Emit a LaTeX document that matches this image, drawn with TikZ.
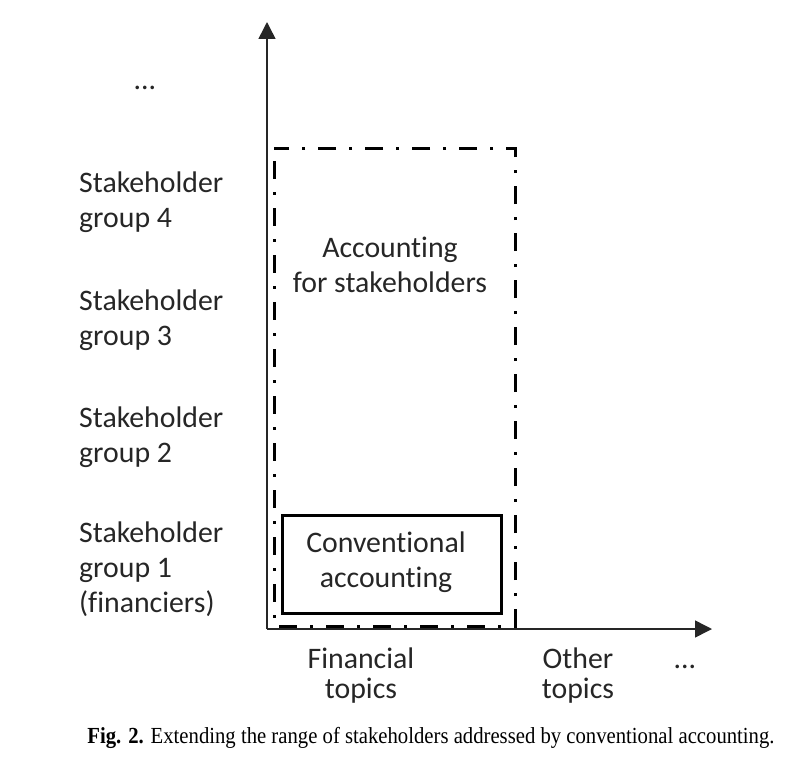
\documentclass[tikz,border=0pt]{standalone}
\usepackage{fontspec}
\setmainfont[RawFeature=-liga]{Carlito}
\newfontfamily\capfont{Liberation Serif}
\usetikzlibrary{arrows.meta}
\definecolor{ink}{gray}{0.15}
\begin{document}
\begin{tikzpicture}[x=1pt,y=-1pt,>={Triangle[width=17pt,length=17pt]},line join=miter,
	font=\fontsize{29.8}{35}\selectfont,text=ink,
	axis/.style={->,line width=1.5pt,draw=ink},
	dashdot/.style={line width=3pt,dash pattern=on 18pt off 13pt on 3pt off 13pt,dash phase=34pt},
	grouplab/.style={align=left,anchor=base west,inner sep=0pt},
	mid/.style={align=center,anchor=base,inner sep=0pt},
	topiclab/.style={mid,font=\fontsize{29.8}{30}\selectfont}]
	\useasboundingbox (0,0) rectangle (792,768);
	\path
	(267,629) coordinate (O)
	(267,22) coordinate (Y)
	(712,629) coordinate (X)
	(274,148) coordinate (A) (515,626) coordinate (B)
	(282,515) coordinate (C) (501,613) coordinate (D)
	;
	\draw[axis] (O)--(Y);
	\draw[axis] (O)--(X);
	\draw[dashdot] (A) rectangle (B);
	\draw[line width=3pt] (C) rectangle (D);
	% base = last line
	\foreach \n/\y/\t in {g4/227/{Stakeholder\\group 4},g3/345/{Stakeholder\\group 3},
		g2/462/{Stakeholder\\group 2},g1/612/{Stakeholder\\group 1\\(financiers)}}
	\node[grouplab] (\n) at (79,\y) {\t};
	\node[mid] (moregroups) at (145,89) {...};
	\node[mid] (stake) at (390,292) {Accounting\\for stakeholders};
	\node[mid] (conv) at (386,587) {Conventional\\accounting};
	\node[topiclab] (fin) at (361,698) {Financial\\topics};
	\node[topiclab] (other) at (578,698) {Other\\topics};
	\node[mid] (moretopics) at (685,668) {...};
	\node[anchor=base,inner sep=0pt,text=black] (caption) at (431,743)
	{\resizebox{687pt}{\height}{\capfont\fontsize{23}{27}\selectfont\textbf{Fig. 2.} Extending the range of stakeholders addressed by conventional accounting.}};
\end{tikzpicture}
\end{document}
